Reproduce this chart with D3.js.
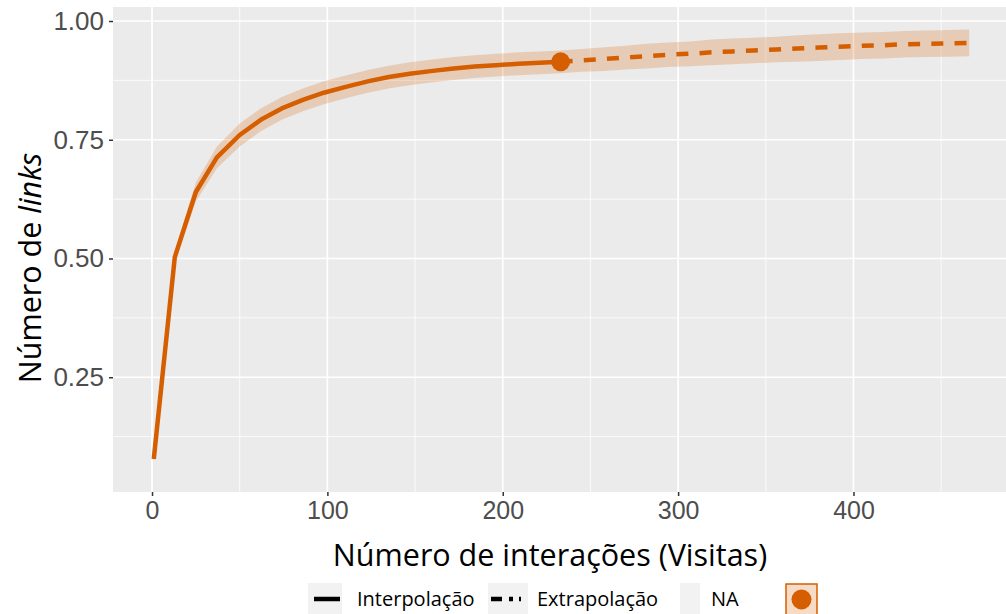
<!DOCTYPE html>
<html>
<head>
<meta charset="utf-8">
<script src="https://cdn.jsdelivr.net/npm/d3@7"></script>
<style>
  html, body { margin: 0; padding: 0; background: #fff; }
  svg { display: block; }
</style>
</head>
<body>
<svg id="chart" width="1006" height="614"></svg>
<script>
// ---- data ----
const interpX = [1, 13, 25, 37, 50, 62, 74, 86, 98, 111, 123, 135, 147, 160, 172, 184, 196, 209, 221, 233];
const interpY = [0.078, 0.503, 0.640, 0.713, 0.760, 0.792, 0.816, 0.834, 0.849, 0.862, 0.873, 0.882, 0.889, 0.895, 0.900, 0.904, 0.907, 0.910, 0.912, 0.914];
const interpLo = [0.075, 0.491, 0.620, 0.690, 0.736, 0.768, 0.792, 0.810, 0.825, 0.838, 0.849, 0.858, 0.865, 0.871, 0.876, 0.880, 0.883, 0.886, 0.888, 0.890];
const interpHi = [0.081, 0.515, 0.660, 0.736, 0.784, 0.816, 0.840, 0.858, 0.873, 0.886, 0.897, 0.906, 0.913, 0.919, 0.924, 0.928, 0.931, 0.934, 0.936, 0.938];

const extrapX = [233, 245, 258, 270, 282, 294, 307, 319, 331, 343, 356, 368, 380, 392, 405, 417, 429, 441, 454, 466];
const extrapY = [0.914, 0.917, 0.920, 0.923, 0.926, 0.929, 0.931, 0.934, 0.936, 0.938, 0.940, 0.942, 0.944, 0.946, 0.948, 0.949, 0.951, 0.952, 0.953, 0.954];
const extrapLo = [0.890, 0.893, 0.895, 0.898, 0.900, 0.903, 0.905, 0.907, 0.909, 0.911, 0.913, 0.914, 0.916, 0.918, 0.920, 0.921, 0.923, 0.924, 0.925, 0.926];
const extrapHi = [0.938, 0.941, 0.945, 0.948, 0.952, 0.955, 0.957, 0.961, 0.963, 0.965, 0.967, 0.970, 0.972, 0.974, 0.976, 0.977, 0.979, 0.980, 0.981, 0.982];

const observedX = [233];
const observedY = [0.914];

const xTicks = [0, 100, 200, 300, 400];
const xMinor = [50, 150, 250, 350, 450];
const yTicks = [0.25, 0.50, 0.75, 1.00];
const yMinor = [0.125, 0.375, 0.625, 0.875];
const legendLabels = ["Interpolação", "Extrapolação", "NA"];

// ---- layout ----
const W = 1006, H = 614;
const panel = { left: 113, right: 1010, top: 7, bottom: 492 };
const col = "#D55E00";

const svg = d3.select("#chart");
svg.append("rect").attr("width", W).attr("height", H).attr("fill", "#fff");

const x = d3.scaleLinear().domain([-22.25, 489.25]).range([panel.left, panel.right]);
const y = d3.scaleLinear().domain([0.0084, 1.0295]).range([panel.bottom, panel.top]);

svg.append("clipPath").attr("id", "pclip").append("rect")
  .attr("x", panel.left).attr("y", panel.top)
  .attr("width", panel.right - panel.left).attr("height", panel.bottom - panel.top);

const g = svg.append("g").attr("clip-path", "url(#pclip)");
g.append("rect").attr("x", panel.left).attr("y", panel.top)
  .attr("width", panel.right - panel.left).attr("height", panel.bottom - panel.top)
  .attr("fill", "#EBEBEB");

// grid
g.selectAll(".xminor").data(xMinor).join("line")
  .attr("x1", d => x(d)).attr("x2", d => x(d)).attr("y1", panel.top).attr("y2", panel.bottom)
  .attr("stroke", "#fff").attr("stroke-width", 0.8);
g.selectAll(".yminor").data(yMinor).join("line")
  .attr("y1", d => y(d)).attr("y2", d => y(d)).attr("x1", panel.left).attr("x2", panel.right)
  .attr("stroke", "#fff").attr("stroke-width", 0.8);
g.selectAll(".xmajor").data(xTicks).join("line")
  .attr("x1", d => x(d)).attr("x2", d => x(d)).attr("y1", panel.top).attr("y2", panel.bottom)
  .attr("stroke", "#fff").attr("stroke-width", 1.7);
g.selectAll(".ymajor").data(yTicks).join("line")
  .attr("y1", d => y(d)).attr("y2", d => y(d)).attr("x1", panel.left).attr("x2", panel.right)
  .attr("stroke", "#fff").attr("stroke-width", 1.7);

// band
const bandData = interpX.map((v, i) => ({ x: v, lo: interpLo[i], hi: interpHi[i] }))
  .concat(extrapX.slice(1).map((v, i) => ({ x: v, lo: extrapLo[i + 1], hi: extrapHi[i + 1] })));
g.append("path").datum(bandData)
  .attr("d", d3.area().x(d => x(d.x)).y0(d => y(d.lo)).y1(d => y(d.hi)))
  .attr("fill", col).attr("fill-opacity", 0.22);

// lines
const lineGen = d3.line().x(d => x(d[0])).y(d => y(d[1]));
g.append("path").datum(interpX.map((v, i) => [v, interpY[i]]))
  .attr("d", lineGen).attr("fill", "none").attr("stroke", col).attr("stroke-width", 4.5)
  .attr("stroke-linejoin", "round");
g.append("path").datum(extrapX.map((v, i) => [v, extrapY[i]]))
  .attr("d", lineGen).attr("fill", "none").attr("stroke", col).attr("stroke-width", 4.5)
  .attr("stroke-dasharray", "12,11.2").attr("stroke-dashoffset", 0);

// observed point
g.selectAll(".obs").data(observedX).join("circle")
  .attr("cx", d => x(d)).attr("cy", (d, i) => y(observedY[i])).attr("r", 9.5).attr("fill", col);

// axes
const tickFont = "'Liberation Sans', Arial, sans-serif";
const xAxis = svg.append("g").attr("transform", `translate(0,${panel.bottom})`)
  .call(d3.axisBottom(x).tickValues(xTicks).tickSize(4).tickPadding(5).tickFormat(d3.format("d")));
xAxis.select(".domain").remove();
xAxis.selectAll("line").attr("stroke", "#333").attr("stroke-width", 1.5);
xAxis.selectAll("text").attr("fill", "#4D4D4D").style("font-family", tickFont).style("font-size", "25px");

const yAxis = svg.append("g").attr("transform", `translate(${panel.left},0)`)
  .call(d3.axisLeft(y).tickValues(yTicks).tickSize(4).tickPadding(5).tickFormat(d3.format(".2f")));
yAxis.select(".domain").remove();
yAxis.selectAll("line").attr("stroke", "#333").attr("stroke-width", 1.5);
yAxis.selectAll("text").attr("fill", "#4D4D4D").style("font-family", tickFont).style("font-size", "26px");

// titles
const titleFont = "'Open Sans', 'Noto Sans', sans-serif";
svg.append("text").attr("x", 550).attr("y", 566).attr("text-anchor", "middle")
  .style("font-family", titleFont).style("font-size", "30.5px").attr("fill", "#000")
  .text("Número de interações (Visitas)");
const yt = svg.append("text").attr("transform", "translate(41,268) rotate(-90)").attr("text-anchor", "middle")
  .style("font-family", titleFont).style("font-size", "30.5px").attr("fill", "#000");
yt.append("tspan").text("Número de ");
yt.append("tspan").style("font-style", "italic").text("links");

// legend
const legY = 599;
const leg = svg.append("g");
const legFont = "'Open Sans', 'Noto Sans', sans-serif";
const keys = [{ x: 308, w: 34 }, { x: 488, w: 40 }, { x: 680, w: 20 }];
keys.forEach(k => {
  leg.append("rect").attr("x", k.x).attr("y", legY - 16).attr("width", k.w).attr("height", 32).attr("fill", "#F2F2F2");
});
leg.append("line").attr("x1", 314).attr("x2", 340).attr("y1", legY).attr("y2", legY)
  .attr("stroke", "#000").attr("stroke-width", 4.5);
leg.append("line").attr("x1", 491).attr("x2", 526).attr("y1", legY).attr("y2", legY)
  .attr("stroke", "#000").attr("stroke-width", 4.5).attr("stroke-dasharray", "11,7,4,6,2,20");
leg.append("rect").attr("x", 786).attr("y", legY - 15).attr("width", 31).attr("height", 31)
  .attr("fill", col).attr("fill-opacity", 0.22).attr("stroke", col).attr("stroke-width", 1.5);
leg.append("circle").attr("cx", 801.5).attr("cy", legY + 0.5).attr("r", 10).attr("fill", col);
const textX = [357, 537, 711];
leg.selectAll(".lt").data(legendLabels).join("text")
  .attr("x", (d, i) => textX[i]).attr("y", legY + 7)
  .style("font-family", legFont).style("font-size", "20px").attr("fill", "#000")
  .text(d => d);
</script>
</body>
</html>
